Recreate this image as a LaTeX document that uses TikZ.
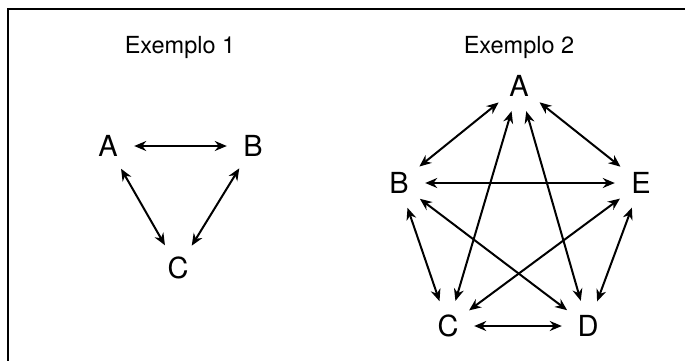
\documentclass[tikz,border=0pt]{standalone}
\usepackage{fontspec}
\setmainfont{TeX Gyre Heros}
\usetikzlibrary{arrows.meta}
\tikzstyle{title} = [font=\fontsize{23.5}{26}\selectfont]
\tikzstyle{vertex} = [circle, minimum size=52pt, inner sep=0pt, font=\fontsize{29}{31}\selectfont]
\tikzstyle{arrow} = [line width=2pt, {Stealth[length=12pt,width=10pt]}-{Stealth[length=12pt,width=10pt]}]

\begin{document}
\begin{tikzpicture}[x=1pt, y=-1pt]
\useasboundingbox (0,0) rectangle (685,361);
\draw [line width=2pt] (7.5,9) rectangle (720,400);

% Exemplo 1
\node (t1) [title] at (180,47) {Exemplo 1};
\node (a1) [vertex] at (108,146) {A};
\node (b1) [vertex] at (253,146) {B};
\node (c1) [vertex] at (178,268) {C};

\draw [arrow] (a1) -- (b1);
\draw [arrow] (a1) -- (c1);
\draw [arrow] (b1) -- (c1);

% Exemplo 2
\node (t2) [title] at (519,47) {Exemplo 2};
\node (a2) [vertex] at (519,86) {A};
\node (b2) [vertex] at (399,183) {B};
\node (e2) [vertex] at (641,183) {E};
\node (c2) [vertex] at (448,326) {C};
\node (d2) [vertex] at (588,326) {D};

\draw [arrow] (a2) -- (b2);
\draw [arrow] (a2) -- (e2);
\draw [arrow] (a2) -- (c2);
\draw [arrow] (a2) -- (d2);
\draw [arrow] (b2) -- (e2);
\draw [arrow] (b2) -- (c2);
\draw [arrow] (b2) -- (d2);
\draw [arrow] (e2) -- (c2);
\draw [arrow] (e2) -- (d2);
\draw [arrow] (c2) -- (d2);
\end{tikzpicture}
\end{document}
